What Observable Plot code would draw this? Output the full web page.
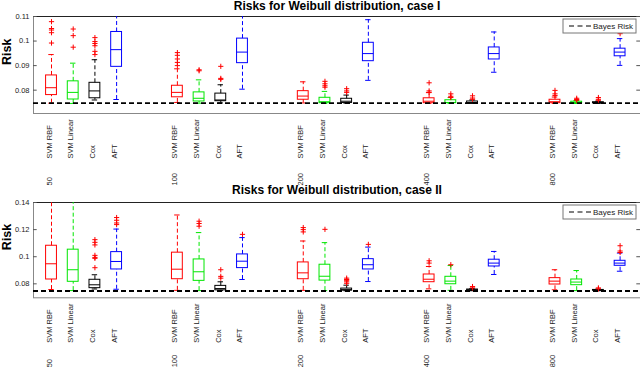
<!DOCTYPE html>
<html><head><meta charset="utf-8">
<script src="https://cdn.jsdelivr.net/npm/d3@7"></script>
<script src="https://cdn.jsdelivr.net/npm/@observablehq/plot@0.6"></script>
<style>
body{margin:0;background:#fff;font-family:"Liberation Sans",Arial,sans-serif}
#chart{width:640px;height:368px;position:relative;overflow:hidden}
#chart svg{display:block}
</style>
</head><body><div id="chart"></div><script>
const groups = ["50", "100", "200", "400", "800"];
const methods = ["SVM RBF", "SVM Linear", "Cox", "AFT"];
const methodColors = ["#ff0000", "#00e600", "#000000", "#0000ff"];
const outlierColor = "#ff0000";
const bayesRisk = 0.0747;

const titleI = "Risks for Weibull distribution, case I";
const titleII = "Risks for Weibull distribution, case II";
const yLabel = "Risk";
const legendLabel = "Bayes Risk";
const yTicksI = [0.08, 0.09, 0.1, 0.11];
const yTicksII = [0.08, 0.1, 0.12, 0.14];
const yDomainI = [0.0705, 0.11];
const yDomainII = [0.0697, 0.14];

// rows = sample size group, columns = method
const caseI_lo  = [[0.0747,0.0746,0.0760,0.0762],[0.0750,0.0747,0.0748,0.0804],[0.0748,0.0746,0.0747,0.0840],[0.0746,0.0746,0.0746,0.0873],[0.0746,0.0746,0.0746,0.0901]];
const caseI_q1  = [[0.0780,0.0762,0.0767,0.0895],[0.0771,0.0754,0.0755,0.0910],[0.0761,0.0747,0.0748,0.0918],[0.0747,0.0747,0.0747,0.0925],[0.0747,0.0747,0.0747,0.0938]];
const caseI_med = [[0.0810,0.0791,0.0797,0.0965],[0.0791,0.0767,0.0760,0.0955],[0.0776,0.0753,0.0755,0.0949],[0.0755,0.0750,0.0749,0.0949],[0.0753,0.0749,0.0748,0.0955]];
const caseI_q3  = [[0.0860,0.0836,0.0830,0.1037],[0.0818,0.0791,0.0786,0.1010],[0.0796,0.0769,0.0765,0.0993],[0.0767,0.0759,0.0754,0.0974],[0.0761,0.0753,0.0751,0.0969]];
const caseI_hi  = [[0.0945,0.0910,0.0924,0.1140],[0.0887,0.0842,0.0822,0.1140],[0.0834,0.0795,0.0780,0.1087],[0.0790,0.0770,0.0760,0.1037],[0.0772,0.0758,0.0755,0.1010]];
const caseI_out = [
  [[0.1079,0.1051,0.1045,0.1034,0.0992],[0.1049,0.1022,0.0975],[0.1014,0.0998,0.0990,0.0981,0.0958,0.0945],[]],
  [[0.0953,0.0942,0.0927,0.0913,0.0900],[0.0883,0.0879],[0.0897,0.0848,0.0844],[]],
  [[],[0.0836,0.0826,0.0818,0.0812],[0.0806,0.0797,0.0791],[]],
  [[0.0830,0.0797,0.0791],[0.0785,0.0775,0.0770],[0.0777,0.0768,0.0763],[]],
  [[0.0799,0.0785,0.0778],[0.0767,0.0762,0.0759],[0.0770,0.0763,0.0759],[0.1030]]
];

const caseII_lo  = [[0.0758,0.0750,0.0762,0.0760],[0.0752,0.0750,0.0750,0.0832],[0.0752,0.0750,0.0749,0.0817],[0.0763,0.0752,0.0749,0.0869],[0.0756,0.0750,0.0749,0.0893]];
const caseII_q1  = [[0.0832,0.0815,0.0768,0.0906],[0.0834,0.0822,0.0752,0.0916],[0.0834,0.0824,0.0750,0.0906],[0.0812,0.0797,0.0750,0.0928],[0.0795,0.0790,0.0750,0.0933]];
const caseII_med = [[0.0948,0.0904,0.0793,0.0965],[0.0908,0.0889,0.0765,0.0967],[0.0881,0.0856,0.0757,0.0941],[0.0834,0.0820,0.0752,0.0953],[0.0820,0.0813,0.0752,0.0953]];
const caseII_q3  = [[0.1081,0.1052,0.0830,0.1034],[0.1030,0.0980,0.0785,0.1017],[0.0958,0.0941,0.0765,0.0982],[0.0869,0.0852,0.0758,0.0978],[0.0842,0.0832,0.0755,0.0970]];
const caseII_hi  = [[0.1450,0.1450,0.0867,0.1204],[0.1308,0.1178,0.0815,0.1141],[0.1116,0.1104,0.0790,0.1071],[0.0928,0.0935,0.0765,0.1039],[0.0904,0.0898,0.0760,0.1027]];
const caseII_out = [
  [[],[],[0.1126,0.1106,0.1087,0.1010,0.0995,0.0988,0.0919],[0.1289,0.1269,0.1249,0.1237]],
  [[],[0.1262,0.1245,0.1225],[0.0904,0.0855,0.0842],[0.1165]],
  [[0.1215,0.1200,0.1183],[0.1202],[0.0842,0.0832,0.0826,0.0815,0.0804],[0.1091]],
  [[0.0970,0.0953],[0.0941],[0.0780,0.0770],[]],
  [[],[],[0.0770,0.0763],[0.1081,0.1042,0.1031]]
];

// layout helpers (positions derived from category indices)
const groupStep = 5.8;
const xDomain = [-0.83, 27.14];
const halfBox = 0.25, halfCap = 0.125;

const plusSymbol = {
  draw(ctx, size) {
    const r = Math.sqrt(size / Math.PI);
    ctx.moveTo(-r, 0); ctx.lineTo(r, 0);
    ctx.moveTo(0, -r); ctx.lineTo(0, r);
  }
};

function buildRows(lo, q1, med, q3, hi) {
  const rows = [];
  groups.forEach((g, gi) => methods.forEach((m, mi) => {
    rows.push({group: g, gi, method: m, mi, color: methodColors[mi], pos: gi * groupStep + mi,
      lo: lo[gi][mi], q1: q1[gi][mi], med: med[gi][mi], q3: q3[gi][mi], hi: hi[gi][mi]});
  }));
  return rows;
}
function buildOutliers(out) {
  const rows = [];
  out.forEach((grp, gi) => grp.forEach((vals, mi) => vals.forEach(v => rows.push({pos: gi * groupStep + mi, v}))));
  return rows;
}

function panel({title, rows, outliers, yDomain, yTicks, height, marginTop, marginBottom, groupDy, titleDy}) {
  const tickLen = 0.17;
  const svg = Plot.plot({
    width: 640, height, marginLeft: 33, marginRight: 0, marginTop, marginBottom,
    style: {background: "transparent", overflow: "visible", fontFamily: "'Liberation Sans', Arial, sans-serif"},
    x: {domain: xDomain, axis: null},
    y: {domain: yDomain, axis: null},
    marks: [
      Plot.frame({stroke: "#888"}),
      Plot.ruleY([yDomain[1]], {stroke: "#222", strokeWidth: 1.2}),
      Plot.ruleY(yTicks, {x1: xDomain[0], x2: xDomain[0] + tickLen, stroke: "#555"}),
      Plot.ruleY(yTicks, {x1: xDomain[1], x2: xDomain[1] - tickLen, stroke: "#555"}),
      Plot.axisY(yTicks, {tickSize: 0, tickPadding: 4, tickFormat: d => String(d), fontSize: 7.5, fill: "#222"}),
      Plot.ruleX(rows, {x: "pos", y1: "q3", y2: "hi", stroke: "color", strokeDasharray: "4,2.5", clip: true}),
      Plot.ruleX(rows, {x: "pos", y1: "lo", y2: "q1", stroke: "color", strokeDasharray: "4,2.5", clip: true}),
      Plot.ruleY(rows, {y: "hi", x1: d => d.pos - halfCap, x2: d => d.pos + halfCap, stroke: "color", clip: true}),
      Plot.ruleY(rows, {y: "lo", x1: d => d.pos - halfCap, x2: d => d.pos + halfCap, stroke: "color"}),
      Plot.rect(rows, {x1: d => d.pos - halfBox, x2: d => d.pos + halfBox, y1: "q1", y2: "q3", stroke: "color", fill: "none"}),
      Plot.ruleY(rows, {y: "med", x1: d => d.pos - halfBox, x2: d => d.pos + halfBox, stroke: "color"}),
      Plot.dot(outliers, {x: "pos", y: "v", symbol: plusSymbol, r: 2.6, stroke: outlierColor, fill: "none", strokeWidth: 1}),
      Plot.ruleY([bayesRisk], {stroke: "#000", strokeWidth: 1.8, strokeDasharray: "5,3"}),
      Plot.text([title], {frameAnchor: "top", dy: titleDy, lineAnchor: "bottom", fontWeight: "bold", fontSize: 12, fill: "#000"}),
      Plot.text([yLabel], {frameAnchor: "left", dx: -26.5, rotate: -90, fontWeight: "bold", fontSize: 12.5, fill: "#000"}),
      Plot.text(rows, {x: "pos", frameAnchor: "bottom", dy: 45, text: "method", rotate: -90, textAnchor: "start", fontSize: 7.5, fill: "#222"}),
      Plot.text(rows.filter(d => d.mi === 0), {x: "pos", frameAnchor: "bottom", dy: groupDy, text: "group", rotate: -90, textAnchor: "start", fontSize: 7.5, fill: "#222"})
    ]
  });
  // legend box (top-right inside the frame)
  const s = d3.select(svg);
  const g = s.append("g").attr("transform", `translate(${640 - 77},${marginTop + 3})`);
  g.append("rect").attr("width", 73).attr("height", 14).attr("fill", "#fff").attr("stroke", "#777");
  g.append("line").attr("x1", 6).attr("x2", 28.5).attr("y1", 7).attr("y2", 7)
    .attr("stroke", "#000").attr("stroke-width", 1.1).attr("stroke-dasharray", "5,3.5");
  g.append("text").attr("x", 30).attr("y", 9.8).attr("font-size", 8).attr("fill", "#222")
    .attr("text-anchor", "start")
    .attr("font-family", "'Liberation Sans', Arial, sans-serif").text(legendLabel);
  return svg;
}

const chart = document.getElementById("chart");
chart.append(panel({
  title: titleI,
  rows: buildRows(caseI_lo, caseI_q1, caseI_med, caseI_q3, caseI_hi),
  outliers: buildOutliers(caseI_out),
  yDomain: yDomainI, yTicks: yTicksI, height: 184, marginTop: 16, marginBottom: 71, groupDy: 72, titleDy: -6.5
}));
chart.append(panel({
  title: titleII,
  rows: buildRows(caseII_lo, caseII_q1, caseII_med, caseII_q3, caseII_hi),
  outliers: buildOutliers(caseII_out),
  yDomain: yDomainII, yTicks: yTicksII, height: 184, marginTop: 18, marginBottom: 70.7, groupDy: 69.5, titleDy: -8.5
}));
</script></body></html>
